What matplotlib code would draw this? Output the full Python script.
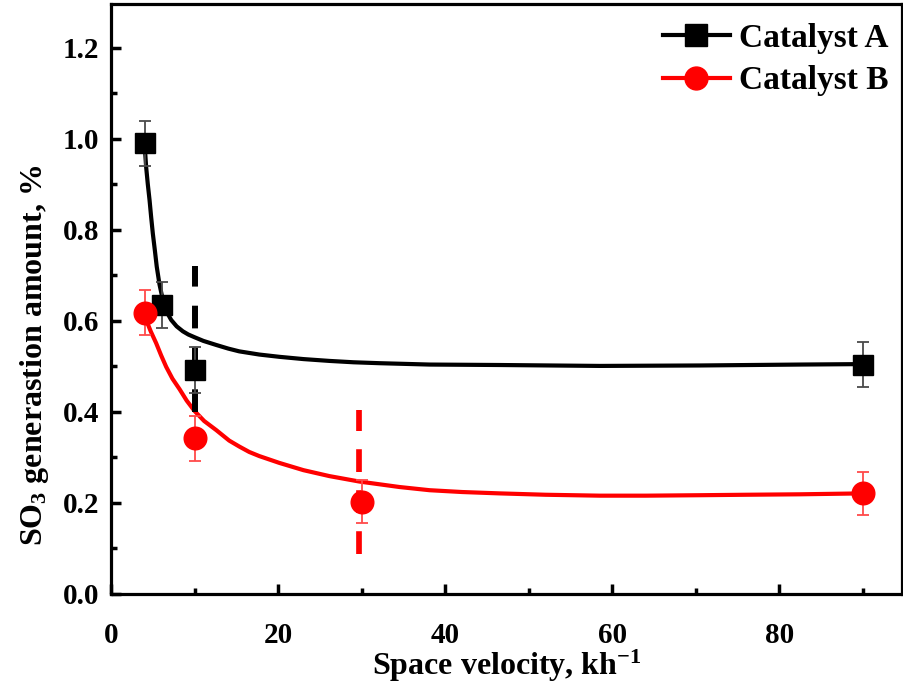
import matplotlib
matplotlib.use("Agg")
import matplotlib.pyplot as plt
from matplotlib.ticker import MultipleLocator

plt.rcParams['font.family'] = ['Liberation Serif', 'DejaVu Serif']
plt.rcParams['font.weight'] = 'bold'
plt.rcParams['mathtext.fontset'] = 'custom'
plt.rcParams['mathtext.rm'] = 'Liberation Serif:bold'
plt.rcParams['mathtext.it'] = 'Liberation Serif:bold'
plt.rcParams['mathtext.bf'] = 'Liberation Serif:bold'

# measured points
x_a = [4, 6, 10, 90]
y_a = [0.99, 0.635, 0.492, 0.504]
err_a = [0.05, 0.05, 0.05, 0.05]

x_b = [4, 10, 30, 90]
y_b = [0.618, 0.342, 0.203, 0.221]
err_b = [0.05, 0.05, 0.048, 0.048]

# fitted curves
fit_a_x = [3.95, 4.05, 4.15, 4.35, 4.56, 4.75, 4.95, 5.2, 5.42, 5.75, 6.15, 6.6, 7.15, 7.8,
           8.55, 9.2, 9.95, 11.0, 12.55, 14.0, 15.3, 17.7, 20.1, 23.0, 26.1, 29.0,
           32.1, 38.1, 46.5, 58.5, 70.5, 82.5, 90]
fit_a_y = [0.99, 0.965, 0.938, 0.900, 0.865, 0.828, 0.792, 0.754, 0.719, 0.680, 0.646, 0.620,
           0.602, 0.588, 0.577, 0.570, 0.564, 0.556, 0.547, 0.539, 0.533, 0.526, 0.521, 0.516,
           0.512, 0.509, 0.507, 0.504, 0.503, 0.501, 0.502, 0.504, 0.505]

fit_b_x = [4.0, 4.15, 4.7, 5.35, 5.95, 6.55, 7.3, 8.15, 9.0, 9.95, 11.1, 12.55, 14.1,
           15.3, 16.5, 17.7, 20.1, 23.0, 26.1, 29.7, 34.5, 38.1, 42.0, 46.5, 52.0,
           58.5, 64.0, 70.5, 76.0, 82.5, 90]
fit_b_y = [0.62, 0.602, 0.577, 0.551, 0.524, 0.499, 0.473, 0.450, 0.425, 0.402, 0.380,
           0.360, 0.337, 0.324, 0.312, 0.303, 0.288, 0.272, 0.259, 0.247, 0.235, 0.228,
           0.224, 0.221, 0.218, 0.216, 0.216, 0.217, 0.218, 0.219, 0.221]

# vertical dashed markers
vline_a_x = 10
vline_a_y = [0.40, 0.72]
vline_b_x = 29.7
vline_b_y = [0.088, 0.404]

labels = ['Catalyst A', 'Catalyst B']

fig = plt.figure(figsize=(9.04, 6.84), dpi=100)
ax = fig.add_axes([111.5 / 904, 90 / 684, (902 - 111.5) / 904, 590 / 684])

ax.plot(fit_a_x, fit_a_y, color='black', lw=3.0, zorder=2, solid_joinstyle='round')
ax.plot(fit_b_x, fit_b_y, color='#ff0000', lw=3.0, zorder=2, solid_joinstyle='round')

ax.plot([vline_a_x, vline_a_x], vline_a_y, color='black', lw=4.3,
        linestyle=(0, (3.8, 3.2)), zorder=3)
ax.plot([vline_b_x, vline_b_x], vline_b_y, color='#ff0000', lw=4.1,
        linestyle=(0, (4.0, 3.2)), zorder=3)

ax.errorbar(x_a, y_a, yerr=err_a, fmt='none', ecolor='#4a4a4a', elinewidth=1.3,
            capsize=4.5, capthick=1.3, zorder=4)
ax.errorbar(x_b, y_b, yerr=err_b, fmt='none', ecolor='#ff4a4a', elinewidth=1.3,
            capsize=4.5, capthick=1.3, zorder=4)
ax.plot(x_a, y_a, linestyle='none', marker='s', ms=14.5, color='black', zorder=5)
ax.plot(x_b, y_b, linestyle='none', marker='o', ms=16.3, color='#ff0000', zorder=5)

# legend handles
ha, = ax.plot([], [], color='black', lw=3.0, marker='s', ms=15.5)
hb, = ax.plot([], [], color='#ff0000', lw=3.0, marker='o', ms=16.5)
leg = ax.legend([ha, hb], labels, loc='upper right', bbox_to_anchor=(0.983, 0.968),
                frameon=False, fontsize=24, handlelength=2.0, handletextpad=0.28,
                labelspacing=0.34, borderpad=0, borderaxespad=0)

ax.set_xlim(0, 94.7)
ax.set_ylim(0, 1.296)
ax.xaxis.set_major_locator(MultipleLocator(20))
ax.xaxis.set_minor_locator(MultipleLocator(10))
ax.yaxis.set_major_locator(MultipleLocator(0.2))
ax.yaxis.set_minor_locator(MultipleLocator(0.1))
ax.yaxis.set_major_formatter(matplotlib.ticker.FormatStrFormatter('%.1f'))

for s in ax.spines.values():
    s.set_linewidth(2.3)
ax.tick_params(which='major', direction='in', length=7, width=2.5, labelsize=21, pad=9)
ax.tick_params(which='minor', direction='in', length=4, width=2.5)
ax.tick_params(axis='x', which='major', pad=20)

ax.set_xlabel('Space velocity, kh$^{-1}$', fontsize=23, fontweight='bold', labelpad=-1)
ax.set_ylabel('SO$_3$ generastion amount, %', fontsize=23, fontweight='bold')
ax.yaxis.set_label_coords(-0.077, 0.405)

fig.savefig('out.png', dpi=100)
